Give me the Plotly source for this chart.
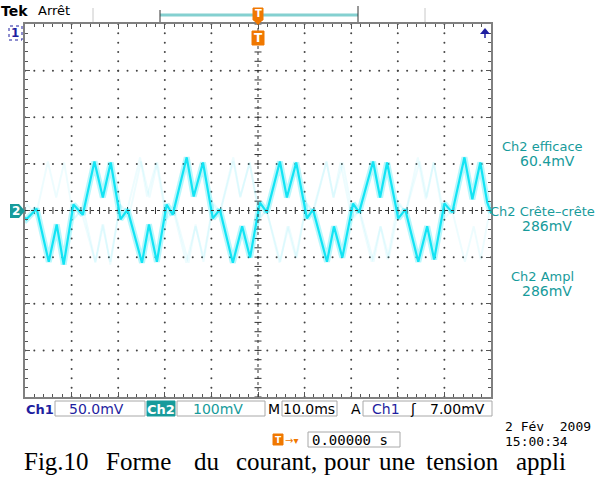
import numpy as np
import plotly.graph_objects as go

# Ch2 acquisition: time relative to trigger (ms) and amplitude (mV)
t_ms = [-50.0, -49.7, -47.5, -44.9, -43.2, -41.7, -39.6, -37.6, -35.1, -33.3, -31.6,
        -29.5, -28.0, -24.9, -23.4, -21.7, -19.6, -18.3, -15.3, -13.8, -11.8,
        -9.7, -8.2, -5.4, -3.4, -1.7, 0.4, 1.9, 4.7, 6.2, 8.2,
        10.5, 11.8, 14.8, 16.3, 18.1, 20.4, 21.7, 24.7, 26.2, 27.7,
        30.1, 31.6, 34.4, 36.3, 37.8, 40.0, 41.7, 44.3, 46.0, 47.7, 49.2, 50.0]
ch2_mv = [-15, -19, 4, -110, -30, -116, 13, -9, 105, 28, 103,
          -19, 2, -112, -30, -110, 13, -9, 114, 30, 103,
          -17, 2, -112, -34, -101, 17, -4, 105, 28, 103,
          -17, 2, -110, -34, -101, 15, -4, 105, 28, 103,
          -17, 2, -110, -34, -105, 15, -4, 114, 24, 103, 17, -5]

# Persistence: the previous sweep, triggered half a period later
ghost_shift_ms = 10.0

# Scope settings and readouts
time_per_div = 10.0      # ms / div
volt_per_div = 100.0     # mV / div (Ch2)
n_xdiv, n_ydiv = 10, 8
measures = [("Ch2 efficace", "60.4mV"), ("Ch2 Crête\u2013crête", "286mV"), ("Ch2 Ampl", "286mV")]

W, H = 599, 477
ML, MR, MT, MB = 25, 108, 24, 80
PW, PH = W - ML - MR, H - MT - MB

TEAL = "#179b9b"
BLUE = "#1f1fa0"
ORANGE = "#f07800"
CYAN = "#12e4f4"
FONT = "DejaVu Sans"


def px(x):
    return (x - ML) / PW


def py(y):
    return (H - MB - y) / PH


xr = [-n_xdiv / 2 * time_per_div, n_xdiv / 2 * time_per_div]
yr = [-n_ydiv / 2 * volt_per_div, n_ydiv / 2 * volt_per_div]

fig = go.Figure()

# graticule dots (every 1/5 division along each grid line)
gx, gy = [], []
for k in range(1, n_xdiv):
    xv = xr[0] + k * time_per_div
    if k == n_xdiv // 2:
        continue
    for j in range(0, n_ydiv * 5 + 1):
        gx.append(xv)
        gy.append(yr[0] + j * volt_per_div / 5)
for k in range(1, n_ydiv):
    yv = yr[0] + k * volt_per_div
    if k == n_ydiv // 2:
        continue
    for j in range(0, n_xdiv * 5 + 1):
        gx.append(xr[0] + j * time_per_div / 5)
        gy.append(yv)
fig.add_trace(go.Scatter(x=gx, y=gy, mode="markers", hoverinfo="skip",
                         marker=dict(size=2, color="#444", line=dict(width=0))))

# centre cross: dotted lines with small ticks
fig.add_shape(type="line", x0=xr[0], x1=xr[1], y0=0, y1=0,
              line=dict(color="#333", width=1, dash="dot"))
fig.add_shape(type="line", x0=0, x1=0, y0=yr[0], y1=yr[1],
              line=dict(color="#333", width=1, dash="dot"))
cx = [xr[0] + j * time_per_div / 5 for j in range(n_xdiv * 5 + 1)]
cy = [yr[0] + j * volt_per_div / 5 for j in range(n_ydiv * 5 + 1)]
fig.add_trace(go.Scatter(x=cx, y=[0] * len(cx), mode="markers", hoverinfo="skip",
                         marker=dict(symbol="line-ns", size=5, line=dict(width=1, color="#333"))))
fig.add_trace(go.Scatter(x=[0] * len(cy), y=cy, mode="markers", hoverinfo="skip",
                         marker=dict(symbol="line-ew", size=5, line=dict(width=1, color="#333"))))

# faint persisted sweep
gxs = [t + ghost_shift_ms for t in t_ms] + [None] + [t - ghost_shift_ms for t in t_ms]
gys = list(ch2_mv) + [None] + list(ch2_mv)
fig.add_trace(go.Scatter(x=gxs, y=gys, mode="lines", hoverinfo="skip",
                         line=dict(color="rgba(0,215,235,0.07)", width=2)))

# Ch2 waveform: soft halo + core
fig.add_trace(go.Scatter(x=t_ms, y=ch2_mv, mode="lines", hoverinfo="skip",
                         line=dict(color="rgba(0,225,245,0.28)", width=6)))
fig.add_trace(go.Scatter(x=t_ms, y=ch2_mv, mode="lines", hoverinfo="skip",
                         line=dict(color=CYAN, width=2.2)))

ann = []


def text(x, y, s, size=12, color="black", xanchor="left", family=FONT, bold=False, **kw):
    if bold:
        s = "<b>" + s + "</b>"
    ann.append(dict(x=px(x), y=py(y), xref="paper", yref="paper", text=s, showarrow=False,
                    xanchor=xanchor, yanchor="middle", font=dict(size=size, color=color, family=family),
                    **kw))


shapes = []


def rect(x0, y0, x1, y1, line="#a8a8a8", fill="white", lw=1):
    shapes.append(dict(type="rect", xref="paper", yref="paper", x0=px(x0), x1=px(x1),
                       y0=py(y1), y1=py(y0), line=dict(color=line, width=lw), fillcolor=fill,
                       layer="above"))


def line(x0, y0, x1, y1, color, w=1, dash="solid"):
    shapes.append(dict(type="line", xref="paper", yref="paper", x0=px(x0), x1=px(x1),
                       y0=py(y0), y1=py(y1), line=dict(color=color, width=w, dash=dash),
                       layer="above"))


# top status line
text(-1, 11, "Tek", size=14, bold=True, family="DejaVu Sans")
text(36, 11, "Arrêt", size=13)
line(93, 8, 93, 22, "#c8c8c8", 1)
line(425, 8, 425, 22, "#c8c8c8", 1)
line(160, 15, 358, 15, "#84d0d0", 3)
line(160, 10, 160, 22, "#333", 1)
line(358, 6, 358, 22, "#333", 1)

# trigger position markers
rect(253, 8, 263, 20, line=ORANGE, fill=ORANGE)
text(258, 14, "T", size=10, color="white", xanchor="center", bold=True)
shapes.append(dict(type="path", xref="paper", yref="paper", layer="above",
                   path=f"M {px(253)},{py(20)} L {px(263)},{py(20)} L {px(258)},{py(25)} Z",
                   fillcolor=ORANGE, line=dict(width=0)))
rect(252, 31, 264, 45, line=ORANGE, fill=ORANGE)
text(258, 38, "T", size=12, color="white", xanchor="center", bold=True)

# channel markers
rect(9, 26, 22, 40, line=BLUE, fill="white")
shapes[-1]["line"]["dash"] = "dot"
text(15, 33, "1", size=12, color=BLUE, xanchor="center", bold=True)
shapes.append(dict(type="path", xref="paper", yref="paper", layer="above",
                   path=f"M {px(10)},{py(204)} L {px(19)},{py(204)} L {px(25)},{py(211)} "
                        f"L {px(19)},{py(218)} L {px(10)},{py(218)} Z",
                   fillcolor=TEAL, line=dict(width=0)))
text(16, 211, "2", size=12, color="white", xanchor="center", bold=True)

# Ch1 off-screen arrow
shapes.append(dict(type="path", xref="paper", yref="paper", layer="above",
                   path=f"M {px(480)},{py(34)} L {px(485)},{py(28)} L {px(490)},{py(34)} Z",
                   fillcolor=BLUE, line=dict(width=0)))
line(485, 33, 485, 38, BLUE, 1.5)

# measurement readouts
for i, (name, val) in enumerate(measures):
    y0 = 146 + i * 65
    text(542, y0, name, size=13, color=TEAL, xanchor="center")
    text(547, y0 + 15, val, size=14, color=TEAL, xanchor="center")

# bottom status line
yb = 409
text(24, yb, "Ch1", size=13, color=BLUE, bold=True)
rect(55, 401, 145, 416)
text(96, yb, "50.0mV", size=14, color=BLUE, xanchor="center")
rect(147, 401, 175, 416, line=TEAL, fill=TEAL)
text(161, yb, "Ch2", size=13, color="white", xanchor="center", bold=True)
rect(177, 401, 265, 416)
text(218, yb, "100mV", size=14, color=TEAL, xanchor="center")
text(266, yb, "M", size=14)
rect(282, 401, 337, 416)
text(309, yb, "10.0ms", size=14, xanchor="center")
text(349, yb, "A", size=14)
rect(363, 401, 492, 416)
text(370, yb, "Ch1", size=14, color=BLUE)
text(408, yb, "ʃ", size=14)
text(428, yb, "7.00mV", size=14)

text(503, 426, "2 Fév  2009", size=13, family="DejaVu Sans Mono")
text(503, 441, "15:00:34", size=13, family="DejaVu Sans Mono")
rect(273, 434, 283, 445, line=ORANGE, fill=ORANGE)
text(278, 440, "T", size=9, color="white", xanchor="center", bold=True)
text(283, 440, "→▾", size=10, color=ORANGE)
rect(308, 432, 400, 447)
text(310, 440, "0.00000 s", size=14, family="DejaVu Sans Mono")

# figure caption
caption = ["Fig.10", "Forme", "du", "courant,", "pour", "une", "tension", "appli"]
cap_x = [22, 104, 192, 234, 322, 377, 424, 514]
for w, x in zip(caption, cap_x):
    text(x, 462, w, size=25, family="Liberation Serif")

fig.update_layout(
    width=W, height=H, margin=dict(l=ML, r=MR, t=MT, b=MB),
    paper_bgcolor="white", plot_bgcolor="white", showlegend=False,
    annotations=ann, shapes=list(fig.layout.shapes) + shapes,
)
axis_common = dict(showgrid=False, zeroline=False, showticklabels=False,
                   showline=True, linecolor="#808080", linewidth=2, mirror="ticks",
                   ticks="inside", ticklen=5, tickcolor="#555", tickwidth=1)
fig.update_xaxes(range=xr, dtick=time_per_div, tick0=0,
                 minor=dict(dtick=time_per_div / 5, ticks="inside", ticklen=3, tickcolor="#555"),
                 **axis_common)
fig.update_yaxes(range=yr, dtick=volt_per_div, tick0=0,
                 minor=dict(dtick=volt_per_div / 5, ticks="inside", ticklen=3, tickcolor="#555"),
                 **axis_common)

fig.write_html("out.html")
